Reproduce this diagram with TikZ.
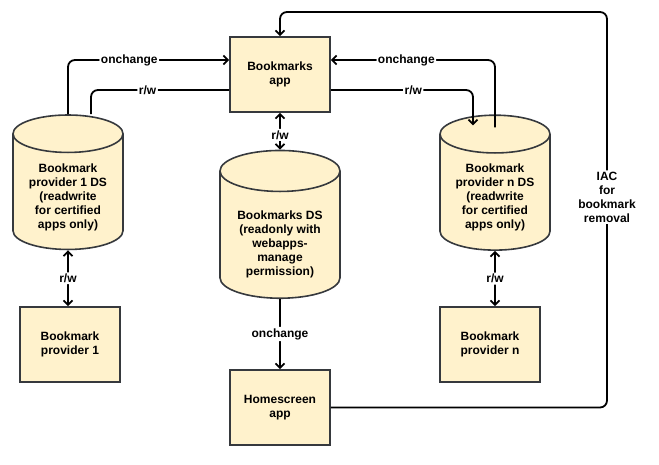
\documentclass[tikz,border=0pt]{standalone}
\usepackage{fontspec}
\setmainfont{Liberation Sans}
\usetikzlibrary{arrows.meta,shapes.geometric}
\definecolor{notefill}{HTML}{FFF2CC}
\definecolor{noteline}{HTML}{36393D}

\begin{document}
\begin{tikzpicture}[
  x=1pt, y=-1pt,
  font=\fontsize{12}{14}\selectfont\bfseries,
  >={Straight Barb[length=4.5pt,width=9pt]},
  bx/.style={draw=noteline, fill=notefill, line width=1.6pt, minimum width=100pt,
    minimum height=75pt, align=center, inner sep=0pt},
  db/.style={cylinder, shape border rotate=90, aspect=0.48, draw=noteline,
    fill=notefill, line width=1.6pt, align=center, inner sep=0pt},
  lbl/.style={fill=white, inner sep=1.5pt, align=center},
  wire/.style={draw=black, line width=1.8pt, rounded corners=7pt}]

\useasboundingbox (0,0) rectangle (659,465);

% ===== app + store (x=280) =====
\node[bx] (app)  at (280,74.5)  {Bookmarks\\app};
\node[db, minimum width=120pt, minimum height=144pt] (bds) at (280,235)
  {\mbox{}\\[13pt]Bookmarks DS\\(readonly with\\webapps-\\manage\\permission)};
\node[bx] (home) at (280,407.5) {Homescreen\\app};

% ===== provider 1 (x=68) =====
\node[db, minimum width=110pt, minimum height=120pt] (pds1) at (68,192)
  {\mbox{}\\[5pt]Bookmark\\provider 1 DS\\(readwrite\\for certified\\apps only)};
\node[bx] (bp1) at (70,344.5) {Bookmark\\provider 1};

% ===== provider n (x=495) =====
\node[db, minimum width=110pt, minimum height=121pt] (pdsn) at (495,192.5)
  {\mbox{}\\[5pt]Bookmark\\provider n DS\\(readwrite\\for certified\\apps only)};
\node[bx] (bpn) at (490,344.5) {Bookmark\\provider n};

\coordinate (iac) at (607,12);

% ===== edges =====
\draw[wire, ->] (pds1.north) |- node[lbl, pos=0.69] {onchange} ([yshift=14.5pt]app.west);
\draw[wire] ([xshift=23pt]pds1.north) |- node[lbl, pos=0.705] {r/w} ([yshift=-15.5pt]app.west);
\draw[wire, <->] (app) -- node[lbl, pos=0.6] {r/w} (bds);
\draw[wire, ->] ([yshift=-13pt]pdsn.north) |- node[lbl, pos=0.77] {onchange} ([yshift=14.5pt]app.east);
\draw[wire, ->] ([yshift=-15.5pt]app.east) -| node[lbl, pos=0.29] {r/w} ([xshift=-22pt,yshift=-11pt]pdsn.north);
\draw[wire, <->] (pds1.south) -- node[lbl] {r/w} (pds1.south |- bp1.north);
\draw[wire, <->] (pdsn.south) -- node[lbl] {r/w} (pdsn.south |- bpn.north);
\draw[wire, ->] (bds) -- node[lbl] {onchange} (home);
\draw[wire, ->] (home.east) -| node[lbl, pos=0.766] {IAC\\for\\bookmark\\removal} (iac) -| (app.north);

\end{tikzpicture}
\end{document}
